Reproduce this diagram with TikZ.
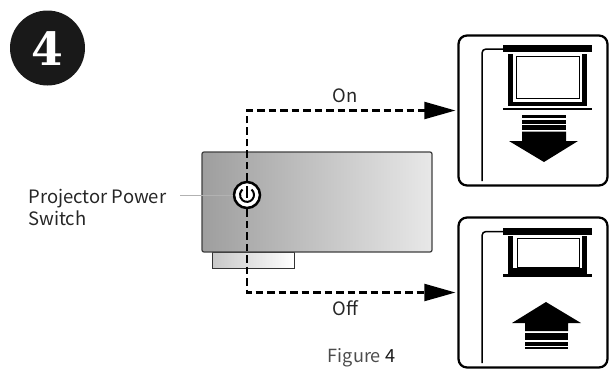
\documentclass[tikz,border=0pt]{standalone}
\usepackage{fontspec}
\setmainfont{Noto Sans CJK SC}
\newfontfamily\numfont{DejaVu Serif}
\usetikzlibrary{arrows.meta}
\tikzset{
	panel/.style={draw, line width=0.045cm, rounded corners=0.17cm, minimum width=2.98cm, minimum height=3cm, inner sep=0},
	dashline/.style={line width=0.042cm, dash pattern=on 0.15cm off 0.08cm, -{Triangle[length=0.62cm,width=0.34cm]}, shorten >=0.04cm},
	label/.style={font=\fontsize{10.5}{12.5}\selectfont, text=black!85, inner sep=0, align=left},
}
\begin{document}
\begin{tikzpicture}[x=0.02cm,y=-0.02cm]
		\useasboundingbox (0,0) rectangle (609,370);
		\node[circle, fill=black!90, minimum size=1.5cm, inner sep=0] (badge) at (47.5,48) {};
		\node[text=white, inner sep=0] (badgenum) at (47.5,49) {\numfont\bfseries\fontsize{26}{26}\selectfont 4};
		% projector
		\shade[left color=black!22, right color=white] (212,252) rectangle (294,268);
		\draw[line width=0.02cm, black!80] (212,252) rectangle (294,268);
		\draw[line width=0.025cm, black!75, rounded corners=0.04cm, left color=black!38, right color=black!9] (202,152) rectangle (432,252);
		\node[circle, draw=black, fill=white, line width=0.05cm, minimum size=0.52cm, inner sep=0] (switch) at (247,195) {};
		\draw[line width=0.04cm] (251.5,189.5) arc (50:-230:0.14cm);
		\draw[line width=0.04cm] (247,186) -- (247,198);
		% panels
		\node[panel] (onpanel) at (533,110.5) {};
		\node[panel] (offpanel) at (533,292.5) {};
		\draw[dashline] (switch.north) |- (onpanel.west);
		\draw[dashline] (switch.south) |- (offpanel.west);
		\node[label] (onlabel) at (345,96) {On};
		\node[label] (offlabel) at (345.5,308) {Off};
		\node[label, anchor=west] (switchlabel) at (28,207) {Projector Power\\Switch};
		\coordinate (leaderend) at (180,195);
		\draw[line width=0.02cm, black!30] (leaderend) -- (switch.west);
		\node[font=\fontsize{10.3}{12}\selectfont, text=black!70] (figlabel) at (361.5,358) {Figure \textcolor{black!90}{4}};
		% upper screen
		\fill (503,45) rectangle (592,52);
		\draw[line width=0.03cm, rounded corners=0.08cm] (503,49) -- (482,49) -- (482,181);
		\fill (508,54) rectangle (513,106);
		\fill (582,54) rectangle (587,106);
		\fill (508,102) rectangle (587,106);
		\draw[line width=0.02cm] (516.5,56) rectangle (579,98);
		\fill (503,107.5) rectangle (592,110);
		\fill (522,115) rectangle (566,117.5);
		\fill (522,119.5) rectangle (566,123.5);
		\fill (522,125) rectangle (566,130);
		\fill (522,131.5) -- (566,131.5) -- (566,141) -- (578,141) -- (544,162) -- (509,141) -- (522,141) -- cycle;
		% lower screen
		\fill (503,228) rectangle (592,235);
		\draw[line width=0.03cm, rounded corners=0.08cm] (503,231.5) -- (482,231.5) -- (482,363);
		\fill (508,236) rectangle (513,274);
		\fill (582,236) rectangle (587,274);
		\fill (508,268) rectangle (587,274);
		\draw[line width=0.02cm] (517,238) rectangle (579,267);
		\fill (503,274) rectangle (592,276.5);
		\fill (546,302) -- (581,323) -- (568,323) -- (568,331) -- (525,331) -- (525,323) -- (512,323) -- cycle;
		\fill (525,333) rectangle (568,340);
		\fill (525,342) rectangle (568,346);
		\fill (525,347) rectangle (568,349);
\end{tikzpicture}
\end{document}
